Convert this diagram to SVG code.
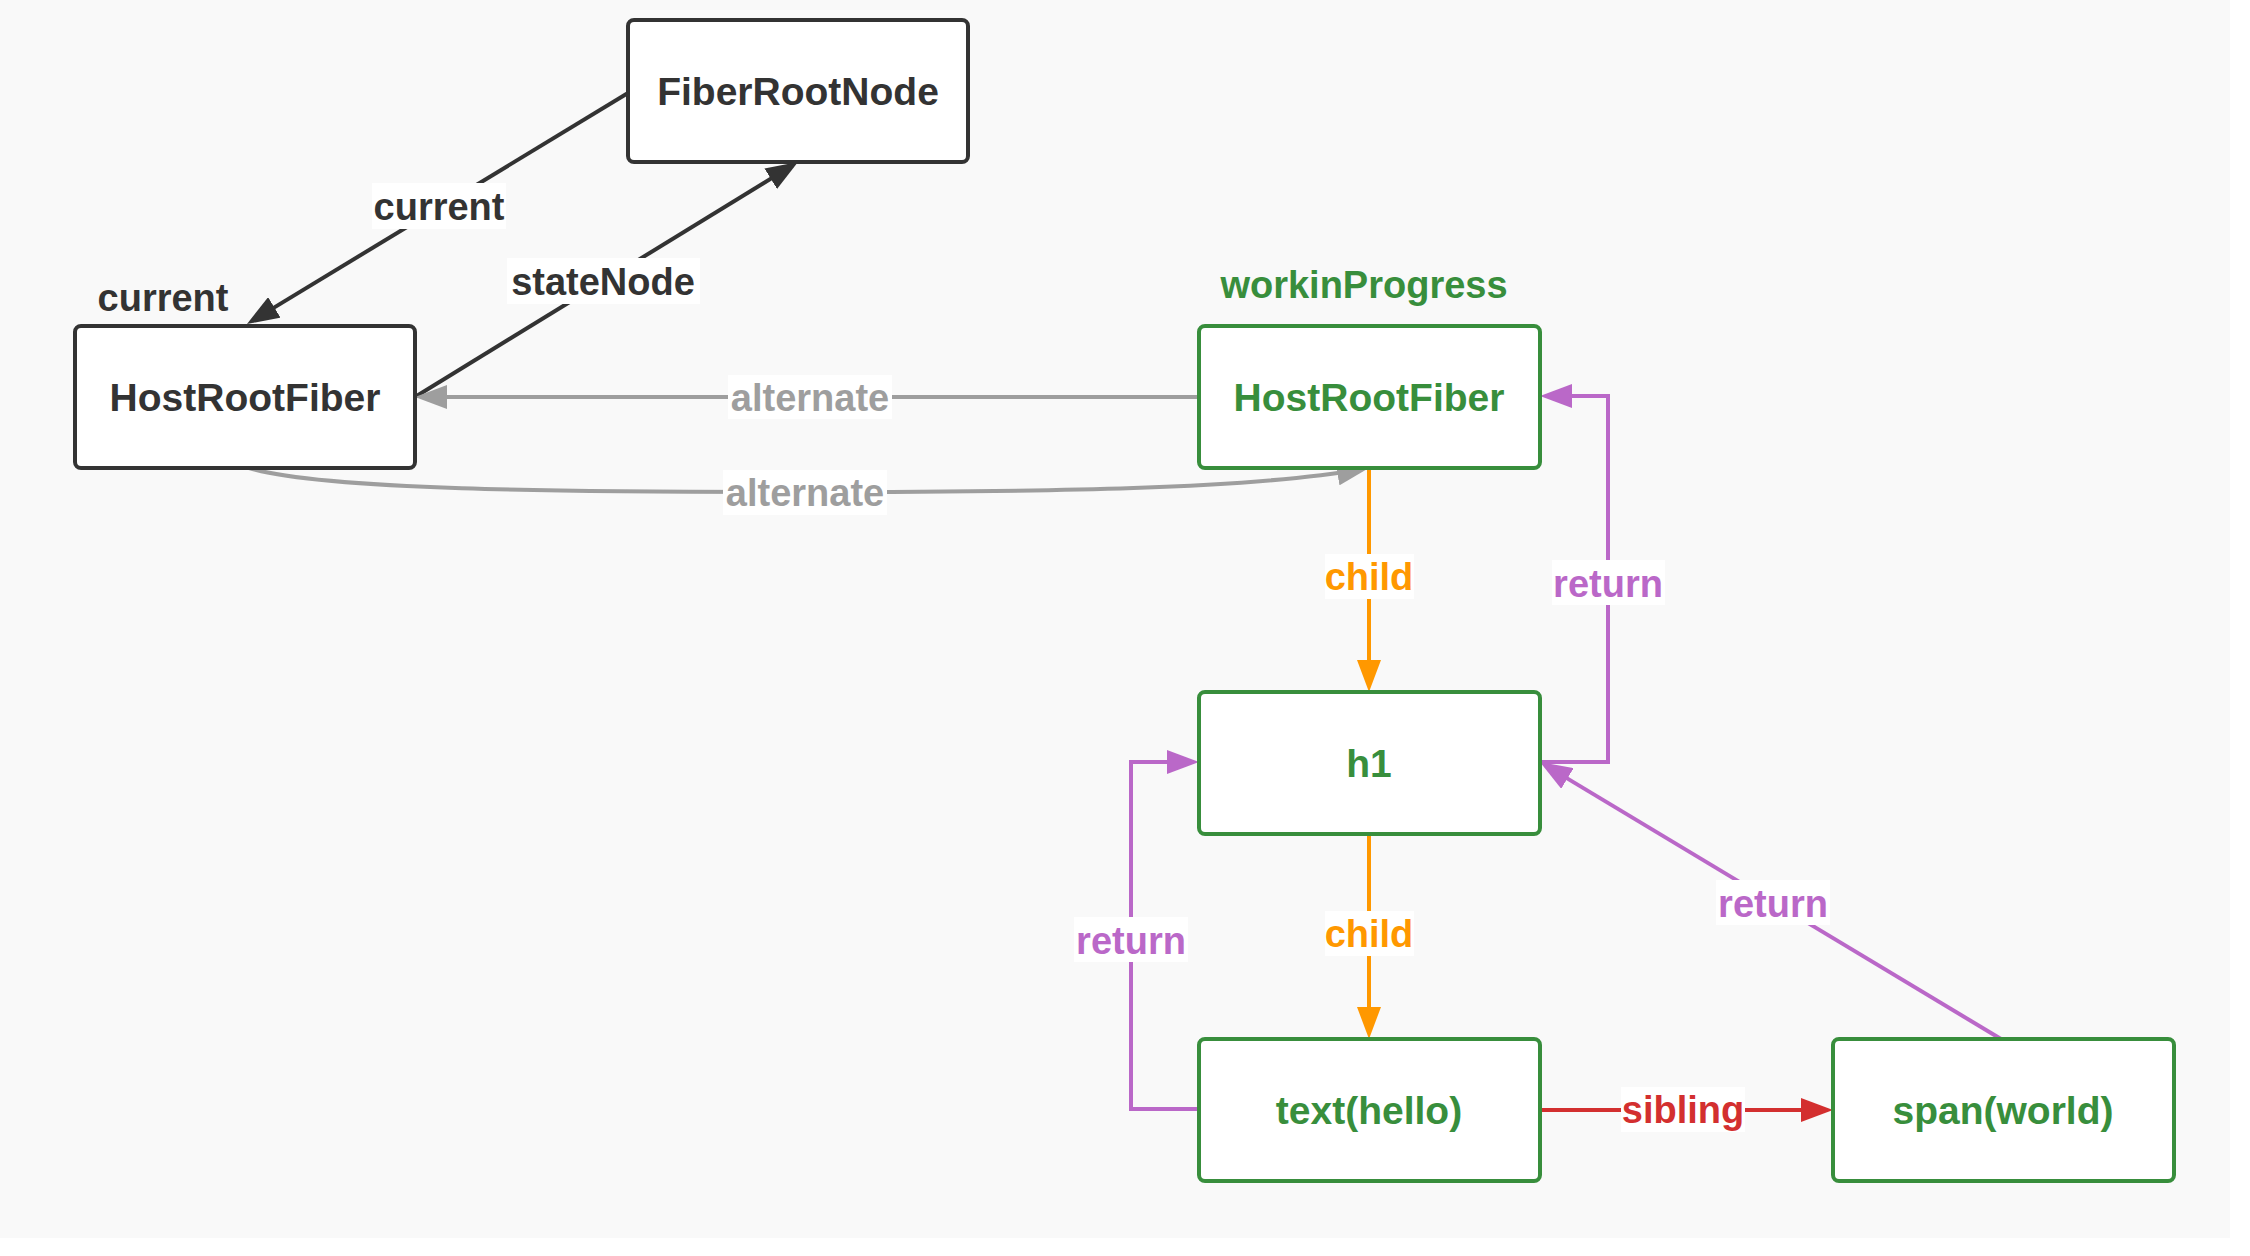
<svg xmlns="http://www.w3.org/2000/svg" width="2250" height="1256" viewBox="0 0 2250 1256">
<style>
  text { font-family: "Liberation Sans", Arial, sans-serif; font-weight: bold; font-size: 38px; text-anchor: middle; }
  .ntxt { font-size: 39px; }
  .box { fill: #ffffff; stroke-width: 4; }
  .blk { stroke: #333333; }
  .grn { stroke: #388e3c; }
  .tblk { fill: #333333; }
  .tgrn { fill: #388e3c; }
  .edge { fill: none; stroke-width: 4; }
  .lbl { fill: #ffffff; stroke: none; }
</style>
<defs>
  <marker id="aBlk" markerUnits="userSpaceOnUse" markerWidth="32" markerHeight="24" refX="26" refY="12" orient="auto"><path d="M0,0 L32,12 L0,24 z" fill="#333333"/></marker>
  <marker id="aGry" markerUnits="userSpaceOnUse" markerWidth="32" markerHeight="24" refX="26" refY="12" orient="auto"><path d="M0,0 L32,12 L0,24 z" fill="#9e9e9e"/></marker>
  <marker id="aOrg" markerUnits="userSpaceOnUse" markerWidth="32" markerHeight="24" refX="26" refY="12" orient="auto"><path d="M0,0 L32,12 L0,24 z" fill="#ff9800"/></marker>
  <marker id="aPur" markerUnits="userSpaceOnUse" markerWidth="32" markerHeight="24" refX="26" refY="12" orient="auto"><path d="M0,0 L32,12 L0,24 z" fill="#ba68c8"/></marker>
  <marker id="aRed" markerUnits="userSpaceOnUse" markerWidth="32" markerHeight="24" refX="26" refY="12" orient="auto"><path d="M0,0 L32,12 L0,24 z" fill="#d32f2f"/></marker>
</defs>
<rect x="0" y="0" width="2250" height="1256" fill="#ffffff"/>
<rect x="0" y="0" width="2230" height="1238" fill="#f9f9f9"/>

<g id="connectors">
  <!-- current: FiberRootNode -> HostRootFiber -->
  <path class="edge" stroke="#333333" d="M628,93 L252.1,320.9" marker-end="url(#aBlk)"/>
  <!-- stateNode: HostRootFiber -> FiberRootNode -->
  <path class="edge" stroke="#333333" d="M415,397 L792.9,165.1" marker-end="url(#aBlk)"/>
  <!-- alternate straight -->
  <path class="edge" stroke="#9e9e9e" d="M1199,397 L421,397" marker-end="url(#aGry)"/>
  <!-- alternate curved -->
  <path class="edge" stroke="#9e9e9e" d="M249,468 C320,490 560,492 805,492 C1050,492 1250,489 1363,469" marker-end="url(#aGry)"/>
  <!-- child 1 -->
  <path class="edge" stroke="#ff9800" d="M1369,468 L1369,686" marker-end="url(#aOrg)"/>
  <!-- return 1: h1 -> green HostRootFiber -->
  <path class="edge" stroke="#ba68c8" d="M1540,762 L1608,762 L1608,396 L1546,396" marker-end="url(#aPur)"/>
  <!-- child 2 -->
  <path class="edge" stroke="#ff9800" d="M1369,834 L1369,1033" marker-end="url(#aOrg)"/>
  <!-- return 2: text(hello) -> h1 -->
  <path class="edge" stroke="#ba68c8" d="M1199,1109 L1131,1109 L1131,762 L1193,762" marker-end="url(#aPur)"/>
  <!-- sibling -->
  <path class="edge" stroke="#d32f2f" d="M1540,1110 L1827,1110" marker-end="url(#aRed)"/>
  <!-- return 3: span(world) -> h1 -->
  <path class="edge" stroke="#ba68c8" d="M2001,1039 L1545.1,765.1" marker-end="url(#aPur)"/>

  <!-- labels -->
  <rect class="lbl" x="372" y="183" width="134" height="46"/>
  <text class="tblk" x="439" y="220">current</text>
  <rect class="lbl" x="507" y="258" width="193" height="46"/>
  <text class="tblk" x="603" y="295">stateNode</text>
  <rect class="lbl" x="728" y="375" width="164" height="44"/>
  <text fill="#9e9e9e" x="810" y="411">alternate</text>
  <rect class="lbl" x="723" y="470" width="164" height="45"/>
  <text fill="#9e9e9e" x="805" y="506">alternate</text>
  <rect class="lbl" x="1325" y="554" width="89" height="45"/>
  <text fill="#ff9800" x="1369" y="590">child</text>
  <rect class="lbl" x="1552" y="560" width="113" height="45"/>
  <text fill="#ba68c8" x="1608" y="597">return</text>
  <rect class="lbl" x="1325" y="911" width="89" height="45"/>
  <text fill="#ff9800" x="1369" y="947">child</text>
  <rect class="lbl" x="1074" y="917" width="114" height="45"/>
  <text fill="#ba68c8" x="1131" y="954">return</text>
  <rect class="lbl" x="1716" y="880" width="114" height="45"/>
  <text fill="#ba68c8" x="1773" y="917">return</text>
  <rect class="lbl" x="1621" y="1087" width="124" height="45"/>
  <text fill="#d32f2f" x="1683" y="1123">sibling</text>
</g>

<g id="label-current">
  <text class="tblk" x="163" y="311">current</text>
</g>
<g id="label-workinProgress">
  <text class="tgrn" x="1364" y="298">workinProgress</text>
</g>

<g id="node-FiberRootNode">
  <rect class="box blk" x="628" y="20" width="340" height="142" rx="6"/>
  <text class="tblk ntxt" x="798" y="105">FiberRootNode</text>
</g>
<g id="node-HostRootFiber-current">
  <rect class="box blk" x="75" y="326" width="340" height="142" rx="6"/>
  <text class="tblk ntxt" x="245" y="411">HostRootFiber</text>
</g>
<g id="node-HostRootFiber-wip">
  <rect class="box grn" x="1199" y="326" width="341" height="142" rx="6"/>
  <text class="tgrn ntxt" x="1369" y="411">HostRootFiber</text>
</g>
<g id="node-h1">
  <rect class="box grn" x="1199" y="692" width="341" height="142" rx="6"/>
  <text class="tgrn ntxt" x="1369" y="777">h1</text>
</g>
<g id="node-text-hello">
  <rect class="box grn" x="1199" y="1039" width="341" height="142" rx="6"/>
  <text class="tgrn ntxt" x="1369" y="1124">text(hello)</text>
</g>
<g id="node-span-world">
  <rect class="box grn" x="1833" y="1039" width="341" height="142" rx="6"/>
  <text class="tgrn ntxt" x="2003" y="1124">span(world)</text>
</g>
</svg>
